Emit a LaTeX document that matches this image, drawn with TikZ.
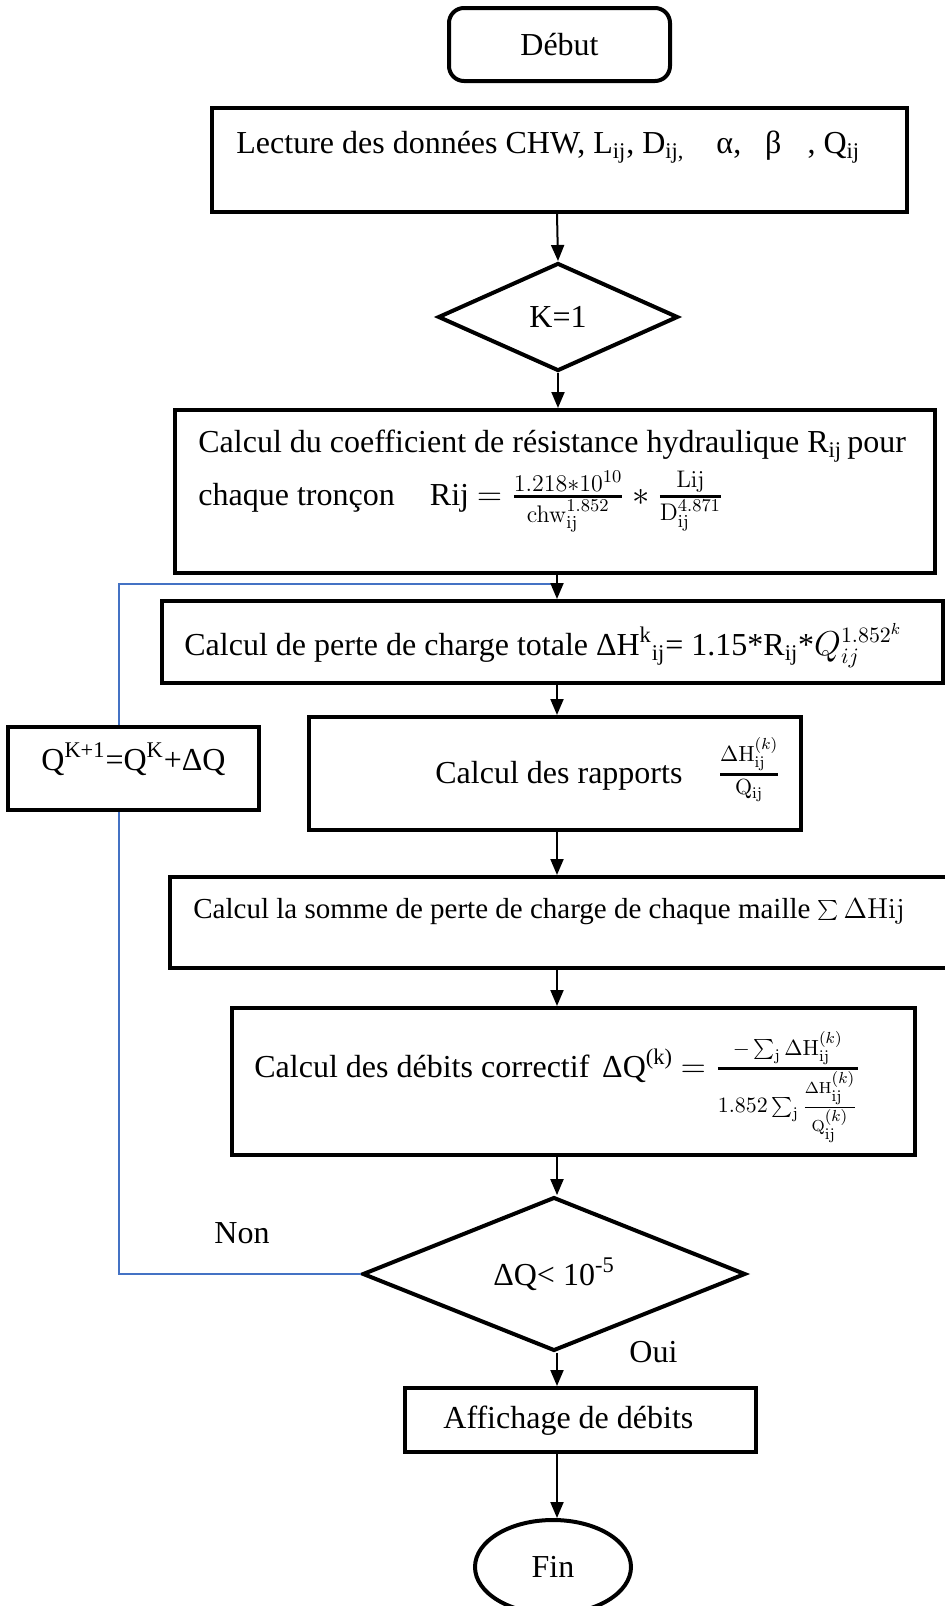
\documentclass[tikz,border=0pt]{standalone}
\usepackage[no-math]{fontspec}
\setmainfont{Liberation Serif}
\usetikzlibrary{shapes.geometric,arrows.meta}
\definecolor{loopblue}{RGB}{68,114,196}
\begin{document}
\begin{tikzpicture}[x=0.5pt,y=-0.5pt,
  every node/.style={font=\fontsize{16}{19}\selectfont},
  box/.style={draw, line width=2pt, inner sep=0pt, fill=white},
  arr/.style={-{Triangle[length=8pt,width=6.5pt]}, line width=1pt},
  loopline/.style={draw=loopblue, line width=1pt},
  lbl/.style={inner sep=0pt, anchor=base west}]
\useasboundingbox (0,0) rectangle (945,1606);
\coordinate (col) at (557,0);
\coordinate (lp) at (119,0);
\coordinate (join) at (557,584);

% decision node first, so that the loop line lies behind the boxes
\node[box, diamond, minimum width=191.5pt, minimum height=71pt] (dq) at (554,1274) {ΔQ< 10\textsuperscript{-5}};
\draw[loopline] (dq.west) -- (dq.west -| lp) -- (lp |- join) -- (join);

\node[box, rounded corners=7.5pt, minimum width=110.5pt, minimum height=36.5pt] (debut) at (559.5,44.5) {Début};

\node[box, minimum width=347.5pt, minimum height=52pt] (lecture) at (559.5,160) {};
\node[lbl] (lectxt) at (236,153) {Lecture des données CHW, L\textsubscript{ij}, D\textsubscript{ij,}\hspace{16pt}α,\hspace{12pt}β\hspace{13pt}, Q\textsubscript{ij}};

\node[box, diamond, minimum width=120pt, minimum height=54pt] (k1) at (558,317) {K=1};

\node[box, minimum width=380pt, minimum height=81.5pt] (rbox) at (555,491.5) {};
\node[lbl] (rt1) at (198,452) {Calcul du coefficient de résistance hydraulique R\textsubscript{ij}\,pour};
\node[lbl] (rt2) at (198,505) {chaque tronçon\hspace{1.1em}Rij {\fontsize{18}{20}\selectfont$= {\mathrm{1.218}{*}10^{10} \above 1.3pt \mathrm{chw}^{1.852}_{\mathrm{ij}}} * {\mathrm{Lij} \above 1.3pt \mathrm{D}^{4.871}_{\mathrm{ij}}}$}};

\node[box, minimum width=390.5pt, minimum height=41pt] (perte) at (552.5,642) {};
\node[lbl] (ptxt) at (184,655) {Calcul de perte de charge totale ΔH\textsuperscript{k}\textsubscript{ij}= 1.15*R\textsubscript{ij}*$Q_{ij}^{1.852^k}$};

\node[box, minimum width=125.5pt, minimum height=41.5pt] (qbox) at (133.5,768.5) {};
\node[inner sep=0pt, anchor=base] (qtxt) at (133.5,770) {Q\textsuperscript{K+1}=Q\textsuperscript{K}+ΔQ};

\node[box, minimum width=246pt, minimum height=56.5pt] (rap) at (555,773.5) {};
\node[lbl] (raptxt) at (435,783) {Calcul des rapports\hspace{1.1em}${\Delta\mathrm{H}^{(k)}_{\mathrm{ij}} \above 1.2pt \mathrm{Q}_{\mathrm{ij}}}$};

\node[box, minimum width=395pt, minimum height=45.5pt] (somme) at (565,922.5) {};
\node[lbl, font=\fontsize{14.5}{17}\selectfont] (stxt) at (193,918) {Calcul la somme de perte de charge de chaque maille $\sum \Delta\mathrm{Hij}$};

\node[box, minimum width=341.5pt, minimum height=73.5pt] (corr) at (573.5,1081.5) {};
\node[lbl] (ctxt) at (254,1077) {Calcul des débits correctif\hspace{0.4em}ΔQ\textsuperscript{(k)} $= {-\sum_{\mathrm{j}}\Delta\mathrm{H}^{(k)}_{\mathrm{ij}} \above 1.2pt 1.852\sum_{\mathrm{j}} {\Delta\mathrm{H}^{(k)}_{\mathrm{ij}}\above 0.8pt \mathrm{Q}^{(k)}_{\mathrm{ij}}}}$};

\node[lbl] (non) at (214,1243) {Non};
\node[lbl] (oui) at (629,1362) {Oui};

\node[box, minimum width=175.5pt, minimum height=32pt] (aff) at (580.5,1420) {};
\node[lbl] (afftxt) at (443,1428) {Affichage de débits};

\node[box, ellipse, minimum width=78pt, minimum height=47pt] (fin) at (553,1567) {Fin};

% connectors
\draw[arr] (lecture.south -| col) -- (k1.north);
\draw[arr] (k1.south) -- (rbox.north -| k1);
\draw[arr] (rbox.south -| col) -- (perte.north -| col);
\draw[arr] (perte.south -| col) -- (rap.north -| col);
\draw[arr] (rap.south -| col) -- (somme.north -| col);
\draw[arr] (somme.south -| col) -- (corr.north -| col);
\draw[arr] (corr.south -| col) -- (dq.north -| col);
\draw[arr] (dq.south -| col) -- (aff.north -| col);
\draw[arr] (aff.south -| col) -- (fin.north -| col);
\end{tikzpicture}
\end{document}
